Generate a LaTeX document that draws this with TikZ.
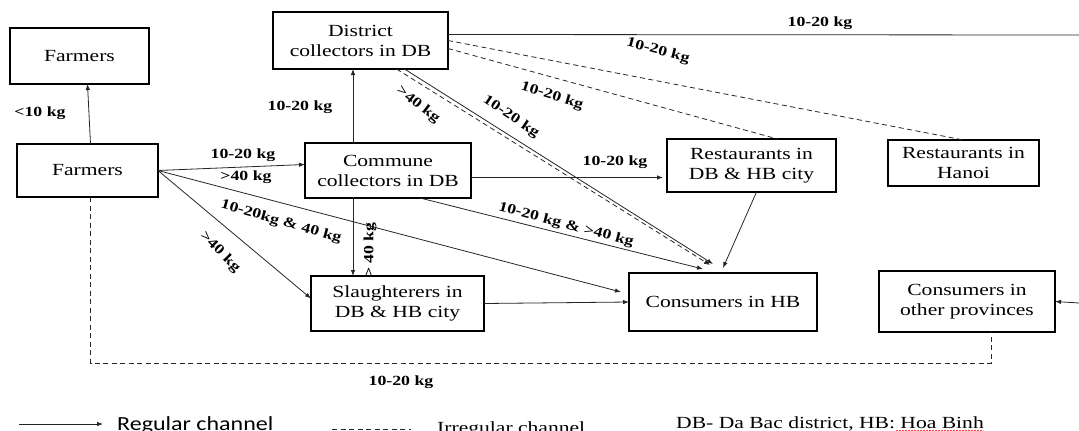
\documentclass[tikz,border=0pt]{standalone}
\usepackage{fontspec}
\setmainfont{Liberation Serif}[FakeStretch=1.27]
\newfontfamily\legendsans{Carlito}[FakeStretch=1.2]
\usetikzlibrary{arrows.meta,decorations.pathmorphing}
\begin{document}
\begin{tikzpicture}[x=1pt,y=-1pt,
box/.style={draw=black,line width=1.2pt,inner sep=0pt,outer sep=0pt,align=center,font=\fontsize{17}{20}\selectfont},
lab/.style={inner sep=0pt,font=\fontsize{14}{16}\selectfont\bfseries},
reg/.style={draw=black!85,line width=0.8pt,-{Latex[length=6pt,width=4.5pt]}},
irr/.style={draw=black!85,line width=0.8pt,dash pattern=on 5pt off 3.5pt}]
\path[use as bounding box,clip] (0,0) rectangle (1079,431);
\node[box,minimum width=139pt,minimum height=56pt] (ftop) at (79.5,56) {Farmers};
\node[box,minimum width=141pt,minimum height=53pt] (farm) at (87.5,170.5) {Farmers};
\node[box,minimum width=175pt,minimum height=57pt] (dist) at (360.5,40.5) {District\\collectors in DB};
\node[box,minimum width=166pt,minimum height=55pt] (comm) at (388,170.5) {Commune\\collectors in DB};
\node[box,minimum width=169pt,minimum height=53pt] (resdb) at (751.5,165.5) {Restaurants in\\DB \& HB city};
\node[box,minimum width=151pt,minimum height=46pt] (resha) at (963.5,163) {Restaurants in\\Hanoi};
\node[box,minimum width=173pt,minimum height=55pt] (slau) at (397.5,303.5) {Slaughterers in\\DB \& HB city};
\node[box,minimum width=188pt,minimum height=58pt] (conhb) at (723,302) {Consumers in HB};
\node[box,minimum width=176pt,minimum height=61pt] (conot) at (967,301.5) {Consumers in\\other provinces};
\coordinate (cx) at ([xshift=-35pt]comm.north);
\coordinate (ce) at ([yshift=-7pt]comm.east);
\coordinate (rtop) at (1079,35);
\coordinate (rmid) at (1079,303);
\draw[reg] ([xshift=3pt]farm.north) -- ([xshift=8pt]ftop.south);
\draw[reg] (farm.east) -- ([yshift=6pt]comm.west);
\draw[reg] (cx) -- (cx |- dist.south);
\draw[reg] (cx |- comm.south) -- (cx |- slau.north);
\draw[reg] (farm.east) -- ([yshift=5pt]slau.west);
\draw[reg] (farm.east) -- ([xshift=-8pt,yshift=10pt]conhb.west);
\draw[reg] (slau.east) -- (conhb.west);
\draw[reg,shorten >=4pt] (ce) -- (ce -| resdb.west);
\draw[reg] ([xshift=32pt]comm.south) -- ([xshift=-20pt,yshift=4pt]conhb.north);
\draw[reg] ([xshift=44pt]dist.south) -- ([xshift=-10pt,yshift=9pt]conhb.north);
\draw[irr,-{Latex[length=6pt,width=4.5pt]}] ([xshift=36pt]dist.south) -- ([xshift=-13pt,yshift=8pt]conhb.north);
\draw[reg] ([xshift=5pt]resdb.south) -- ([yshift=5pt]conhb.north);
\draw[irr] ([yshift=-8pt]dist.east) -- ([xshift=26pt]resdb.north);
\draw[irr] (dist.east) -- (resha.north);
\draw[reg,-] ([yshift=6pt]dist.east) -- (rtop);
\draw[reg] (rmid) -- (conot.east);
\draw[irr] ([xshift=3pt]farm.south) -- ++(0,166) -| ([xshift=24pt]conot.south);
\node[lab] (l1) at (40,113) {<10 kg};
\node[lab] (l2) at (243,155) {10-20 kg};
\node[lab] (l3) at (246,177) {>40 kg};
\node[lab] (l4) at (300,107) {10-20 kg};
\node[lab,rotate=90] (l5) at (370,250) {> 40 kg};
\node[lab,rotate=-45] (l6) at (220,252) {>40 kg};
\node[lab,rotate=-16] (l7) at (281,222) {10-20kg \& 40 kg};
\node[lab] (l8) at (615,162) {10-20 kg};
\node[lab,rotate=-15] (l9) at (566,225) {10-20 kg \& >40 kg};
\node[lab,rotate=-34] (l10) at (511,117) {10-20 kg};
\node[lab,rotate=-38] (l11) at (418,105) {>40 kg};
\node[lab,rotate=-17] (l12) at (552,96) {10-20 kg};
\node[lab,rotate=-15] (l13) at (658,51) {10-20 kg};
\node[lab] (l14) at (820,23) {10-20 kg};
\node[lab] (l15) at (401,382) {10-20 kg};
\coordinate (lga) at (19,424);
\coordinate (lgb) at (103,424);
\coordinate (lgc) at (332,429);
\coordinate (lgd) at (411,429);
\draw[reg] (lga) -- (lgb);
\draw[irr] (lgc) -- (lgd);
\node[anchor=base west,inner sep=0pt,font=\legendsans\fontsize{20}{22}\selectfont] (lgreg) at (117,430) {Regular channel};
\node[anchor=base west,inner sep=0pt,font=\fontsize{17}{20}\selectfont] (lgirr) at (437,433) {Irregular channel};
\node[anchor=base west,inner sep=0pt,font=\fontsize{17}{20}\selectfont] (lgabbr) at (676,428) {DB- Da Bac district, HB: Hoa Binh};
\draw[red,line width=0.5pt,decorate,decoration={snake,amplitude=0.7pt,segment length=3pt}] ([xshift=-88pt,yshift=-3pt]lgabbr.base east) -- ([yshift=-3pt]lgabbr.base east);
\end{tikzpicture}
\end{document}
